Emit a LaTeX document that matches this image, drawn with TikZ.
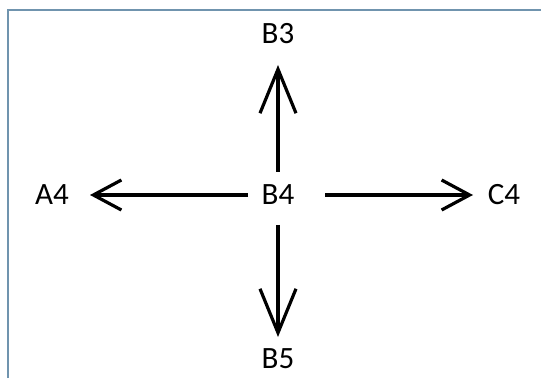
\documentclass[tikz,border=0pt]{standalone}
\usepackage{fontspec}
\setmainfont{Carlito}
\usetikzlibrary{arrows.meta}
\definecolor{frame}{HTML}{7094AE}
\tikzset{
  lbl/.style={inner sep=0pt, font=\fontsize{31}{34}\selectfont},
  arr/.style={line width=3.2pt, -{Straight Barb[length=28pt,width=30pt,line width=3.2pt]}},
  varr/.style={line width=3.2pt, -{Straight Barb[length=44pt,width=36pt,line width=3.2pt]}}
}
\begin{document}
\begin{tikzpicture}[x=1pt,y=1pt]
\fill[white] (0,0) rectangle (541,378);
\useasboundingbox (0,0) rectangle (541,378);
\draw[frame, line width=1.5pt] (8,0) -- (8,368) -- (541,368);
\node[lbl] (B3) at (278,344) {B3};
\node[lbl] (A4) at (52,183) {A4};
\node[lbl] (B4) at (278,183) {B4};
\node[lbl] (C4) at (504,183) {C4};
\node[lbl] (B5) at (278,19) {B5};
\draw[varr, shorten <=23pt, shorten >=31pt] (B4.center) -- (B3.center);
\draw[arr, shorten <=30pt, shorten >=38pt] (B4.center) -- (A4.center);
\draw[arr, shorten <=47pt, shorten >=31pt] (B4.center) -- (C4.center);
\draw[varr, shorten <=30pt, shorten >=22pt] (B4.center) -- (B5.center);
\end{tikzpicture}
\end{document}
